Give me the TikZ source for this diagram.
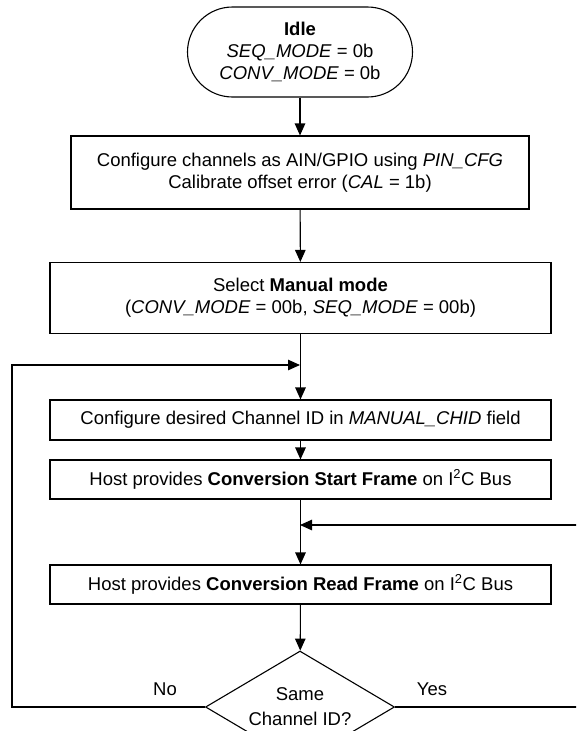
\documentclass[tikz,border=0pt]{standalone}
\usepackage{fontspec}
\setmainfont{Liberation Sans}
\usetikzlibrary{arrows.meta,positioning,shapes.geometric}

\begin{document}
\begin{tikzpicture}[x=1pt, y=-1pt,
  font=\fontsize{18.5}{22}\selectfont,
  box/.style={draw, line width=1.1pt, inner sep=0pt, align=center, minimum width=501pt},
  flow/.style={line width=1.1pt, -{Triangle[length=12pt,width=10.5pt]}}]
\useasboundingbox (0,0) rectangle (576,731);
\clip (0,0) rectangle (576,731);
\node[box, rounded corners=45pt, minimum width=225pt, minimum height=90pt] (idle) at (300,52) {\textbf{Idle}\\\textit{SEQ\_MODE} = 0b\\\textit{CONV\_MODE} = 0b};
\node[box, minimum width=458pt, minimum height=73pt] (cfg) at (300,172.5) {Configure channels as AIN/GPIO using \textit{PIN\_CFG}\\Calibrate offset error (\textit{CAL} = 1b)};
\node[box, minimum height=71pt] (manual) at (300.5,298) {Select \textbf{Manual mode}\\(\textit{CONV\_MODE} = 00b, \textit{SEQ\_MODE} = 00b)};
\node[box, minimum height=40pt] (chid) at (300.5,420) {Configure desired Channel ID in \textit{MANUAL\_CHID} field};
\node[box, minimum height=39pt] (start) at (300.5,479.5) {Host provides \textbf{Conversion Start Frame} on I\textsuperscript{2}C Bus};
\node[box, minimum height=39pt] (read) at (300.5,584.5) {Host provides \textbf{Conversion Read Frame} on I\textsuperscript{2}C Bus};
\node[draw, diamond, line width=1.1pt, aspect=1.7, minimum width=189pt, minimum height=112pt, inner sep=0pt, align=center] (same) at (300,707) {Same\\[3pt]Channel ID?};
\node (no) at (165,689) {No};
\node (yes) at (432,689) {Yes};
\coordinate (joinA) at (300,365);
\coordinate (joinB) at (300,525);
\coordinate (farL) at (12,707);
\coordinate (farR) at (580,707);
\draw[flow] (idle) -- (cfg);
\draw[flow] (cfg) -- (manual);
\draw[flow] (manual) -- (chid);
\draw[flow] (chid) -- (start);
\draw[flow] (start) -- (read);
\draw[flow] (read) -- (same);
\draw[flow] (same.west) -- (farL) |- (joinA);
\draw[flow] (same.east) -- (farR) |- (joinB);
\end{tikzpicture}
\end{document}
